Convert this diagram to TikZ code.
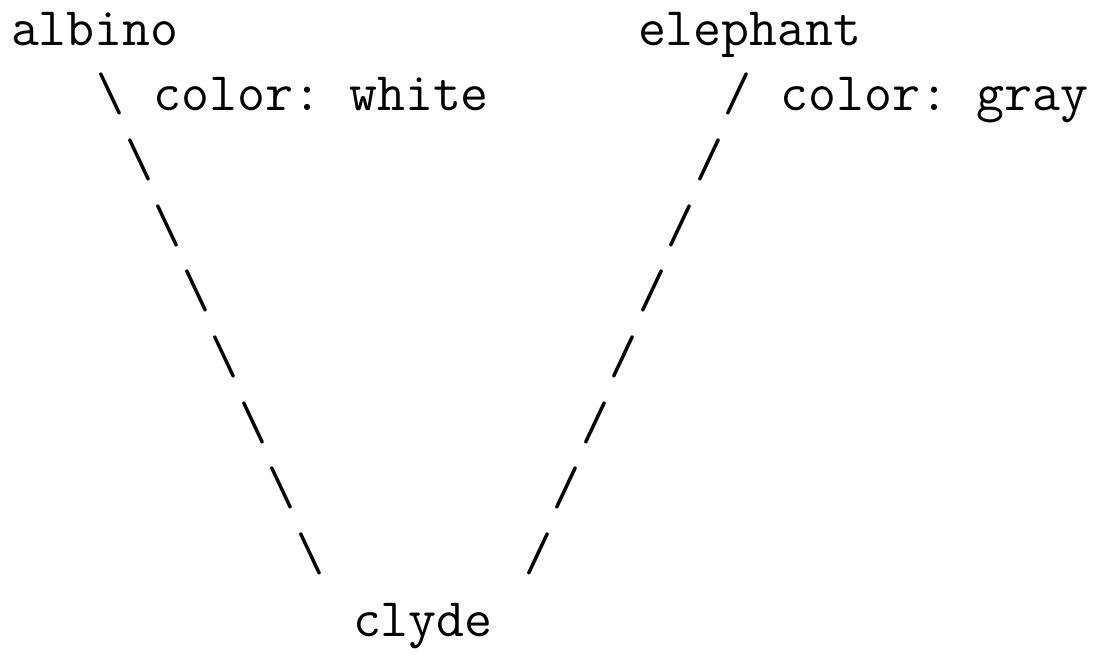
\documentclass[tikz,border=0pt]{standalone}
\begin{document}
\begin{tikzpicture}[x=0.5pt,y=-0.5pt,
  tt/.style={anchor=base west,inner sep=0pt,outer sep=0pt,
    font=\ttfamily\fontsize{27.14pt}{33pt}\selectfont\frenchspacing}]
\useasboundingbox (0,0) rectangle (1093,655);
\def\xo{11}\def\cw{28.5}\def\by{45}\def\lp{65.7}
\node[tt] (albino)   at ({\xo+0*\cw},{\by+0*\lp}) {albino};
\node[tt] (elephant) at ({\xo+22*\cw},{\by+0*\lp}) {elephant};
\node[tt] (lw) at ({\xo+5*\cw},{\by+1*\lp}) {color: white};
\node[tt] (lg) at ({\xo+27*\cw},{\by+1*\lp}) {color: gray};
\foreach \i in {1,...,8}{
  \node[tt] (l\i) at ({\xo+(2+\i)*\cw},{\by+\i*\lp}) {\textbackslash};
  \node[tt] (r\i) at ({\xo+(26-\i)*\cw},{\by+\i*\lp}) {/};
}
\node[tt] (clyde) at ({\xo+12*\cw},{\by+9*\lp}) {clyde};
\end{tikzpicture}
\end{document}
